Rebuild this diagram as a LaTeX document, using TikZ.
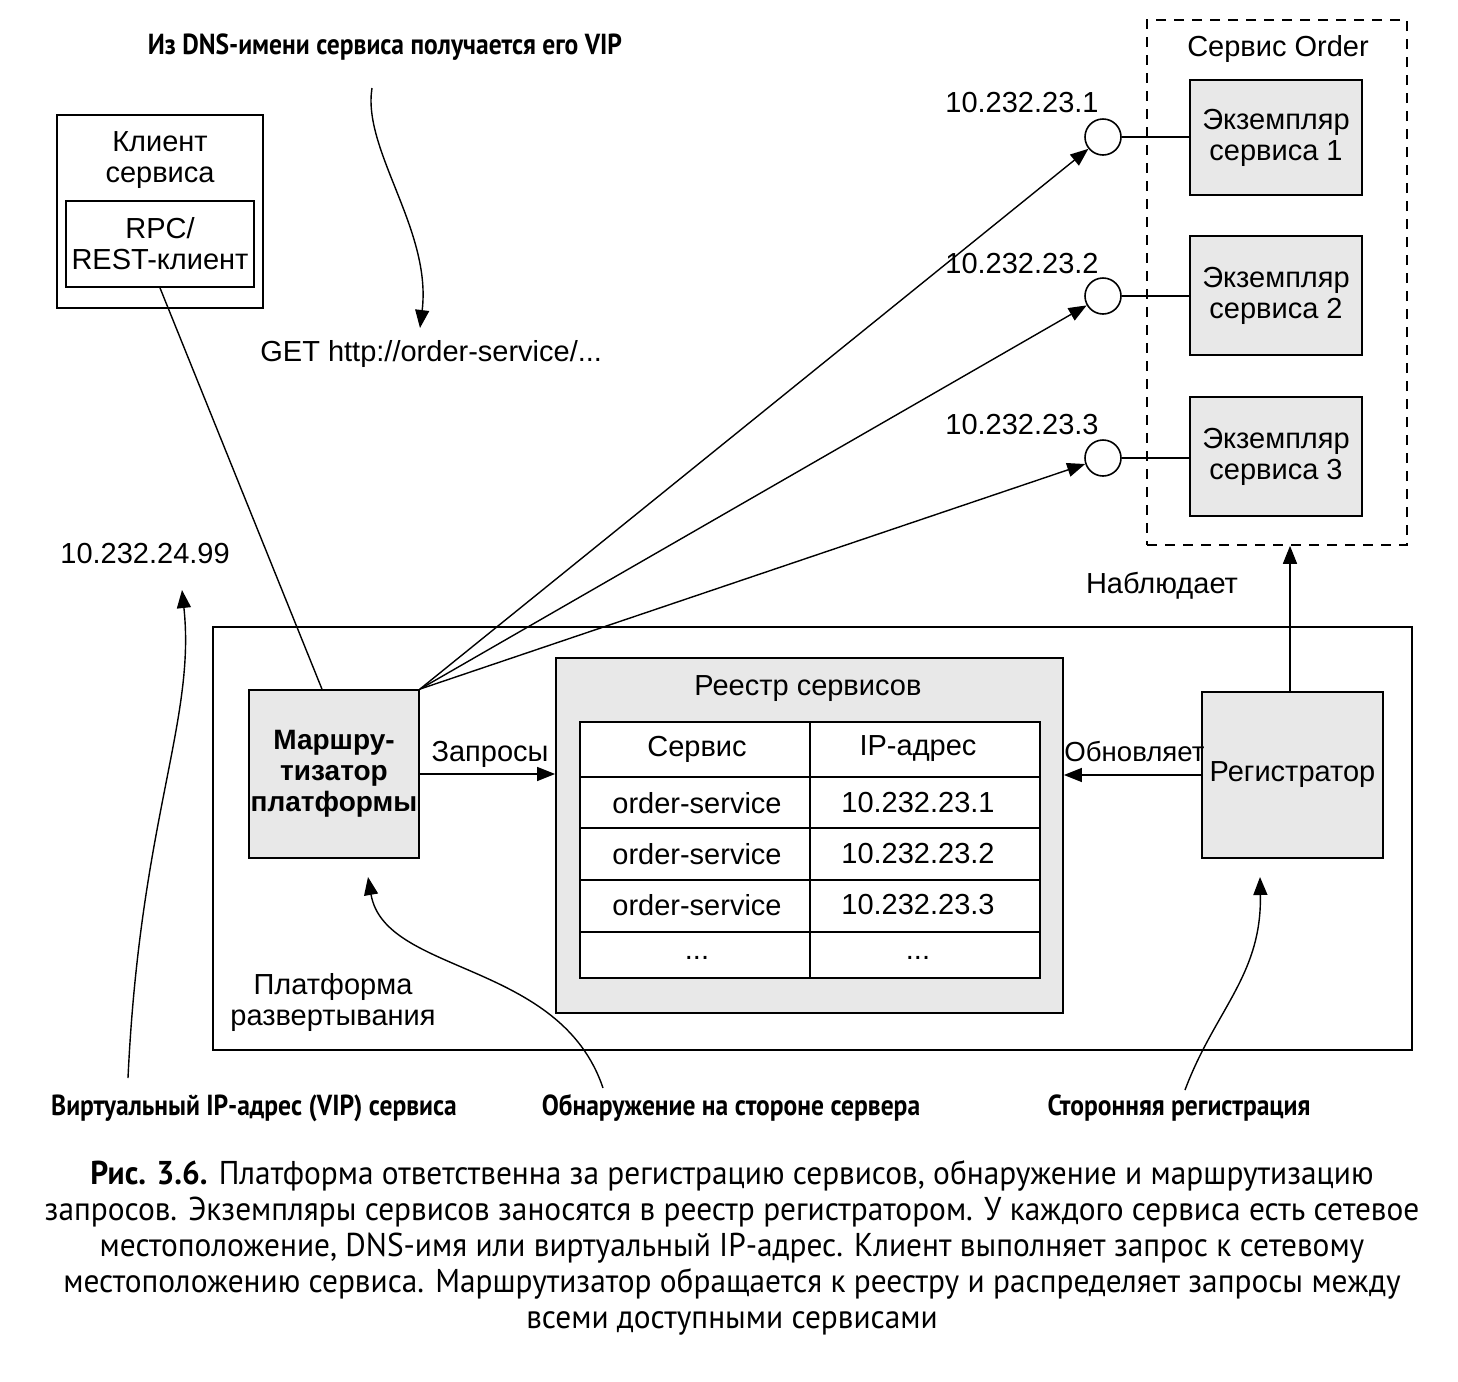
\documentclass[tikz,border=0pt]{standalone}
\usepackage{fontspec}
\setmainfont{Liberation Sans}
\newfontfamily\annfont[FakeStretch=0.88]{PT Sans}
\newfontfamily\capfont[FakeStretch=0.95]{PT Sans}
\usetikzlibrary{arrows.meta,calc}
\begin{document}
\begin{tikzpicture}[x=0.5pt,y=-0.5pt,
  every node/.style={font=\fontsize{14.5}{16}\selectfont, inner sep=0pt},
  twoline/.style={align=center, font=\fontsize{14.5}{15.5}\selectfont},
  box/.style={draw, line width=0.9pt, rectangle},
  graybox/.style={box, fill=black!9},
  conn/.style={line width=0.7pt},
  arr/.style={conn, -{Triangle[length=9pt,width=7pt]}},
  dashbox/.style={draw, line width=0.8pt, dash pattern=on 5pt off 4pt},
  port/.style={draw, line width=0.8pt, circle, minimum size=18pt, fill=white},
  annot/.style={font=\annfont\bfseries\fontsize{14.5}{16}\selectfont}]
\useasboundingbox (0,0) rectangle (1458,1382);

% service client
\node[box, minimum width=103pt, minimum height=96.5pt] (client) at (160,211.5) {};
\node[twoline] (clienttxt) at (160,160) {Клиент\\сервиса};
\node[box, twoline, minimum width=94pt, minimum height=43pt] (rpc) at (160,244) {RPC/\\REST-клиент};

% annotation at the top
\node[annot] (dnsnote) at (385,47) {Из DNS-имени сервиса получается его VIP};
\coordinate (dnsfrom) at (372,88);
\coordinate (dnsto) at (420,328);
\draw[arr] (dnsfrom) .. controls (362,150) and (432,230) .. (dnsto);
\node[anchor=west] (get) at (260,354) {GET http://order-service/...};

% virtual IP
\node[anchor=west] (vip) at (60,554) {10.232.24.99};
\coordinate (vipfrom) at (128,1078);
\coordinate (vipto) at (182,590);
\draw[arr] (vipfrom) .. controls (140,820) and (196,720) .. (vipto);

% deployment platform
\node[box, minimum width=599.5pt, minimum height=211.5pt] (platform) at (812.5,838.5) {};
\node[twoline] (platformtxt) at (333,1002) {Платформа\\развертывания};

% router
\node[graybox, minimum width=85pt, minimum height=84pt, align=center,
      font=\bfseries\fontsize{14}{15.5}\selectfont] (router) at (334,774) {Маршру-\\тизатор\\платформы};

% service registry
\node[graybox, minimum width=253.5pt, minimum height=177.5pt] (registry) at (809.5,835.5) {};
\node (regtitle) at (808,689) {Реестр сервисов};
\node[box, fill=white, minimum width=230pt, minimum height=128pt] (table) at (810,850) {};
\draw[line width=0.9pt] (810,722) -- (810,978);
\foreach \yy in {777,828,880,932} \draw[line width=0.9pt] (580,\yy) -- (1040,\yy);
\node (h1) at (697,749) {Сервис};
\node (h2) at (918,749) {IP-адрес};
\node (s1) at (697,803) {order-service};
\node (a1) at (918,803) {10.232.23.1};
\node (s2) at (697,854) {order-service};
\node (a2) at (918,854) {10.232.23.2};
\node (s3) at (697,905) {order-service};
\node (a3) at (918,905) {10.232.23.3};
\node (s4) at (697,958) {...};
\node (a4) at (918,958) {...};

% registrar
\node[graybox, minimum width=90.5pt, minimum height=83pt] (registrar) at (1292.5,775) {Регистратор};

% router -> registry
\draw[arr] (router.east) -- (registry.west |- router.east);
\node (req) at (490,754) {Запросы};
% registrar -> registry
\draw[arr] (registrar.west) -- (registry.east |- registrar.west);
\node[anchor=west, font=\fontsize{13.8}{16}\selectfont] (upd) at (1064,752) {Обновляет};

% order service instances
\node[dashbox, minimum width=130pt, minimum height=262.5pt] (order) at (1277,282.5) {};
\node (ordtitle) at (1278,49) {Сервис Order};
\node[graybox, twoline, minimum width=86pt, minimum height=57.5pt] (inst1) at (1276,137.5) {Экземпляр\\сервиса 1};
\node[graybox, twoline, minimum width=86pt, minimum height=59.5pt] (inst2) at (1276,295.5) {Экземпляр\\сервиса 2};
\node[graybox, twoline, minimum width=86pt, minimum height=59.5pt] (inst3) at (1276,456.5) {Экземпляр\\сервиса 3};

\node[port] (c1) at (1103,137) {};
\node[port] (c2) at (1103,296) {};
\node[port] (c3) at (1103,458) {};
\draw[conn] (c1.east) -- (inst1.west |- c1.east);
\draw[conn] (c2.east) -- (inst2.west |- c2.east);
\draw[conn] (c3.east) -- (inst3.west |- c3.east);
\node[anchor=east] (ip1) at (1099,103) {10.232.23.1};
\node[anchor=east] (ip2) at (1099,264) {10.232.23.2};
\node[anchor=east] (ip3) at (1099,425) {10.232.23.3};

% routing to instances
\draw[arr] (router.north east) -- (c1);
\draw[arr] (router.north east) -- (c2);
\draw[arr] (router.north east) -- (c3);
% client -> router
\draw[conn] (rpc.south) -- ($(router.north west)!0.43!(router.north east)$);

% registrar observes
\draw[arr] (registrar.north -| 1290,0) -- (order.south -| 1290,0);
\node (watch) at (1162,586) {Наблюдает};

% bottom annotations
\node[annot] (n1) at (254,1108) {Виртуальный IP-адрес (VIP) сервиса};
\node[annot] (n2) at (731,1108) {Обнаружение на стороне сервера};
\node[annot] (n3) at (1179,1108) {Сторонняя регистрация};
\coordinate (disfrom) at (603,1088);
\coordinate (disto) at (368,877);
\draw[arr] (disfrom) .. controls (560,960) and (385,975) .. (disto);
\coordinate (regfrom) at (1185,1090);
\coordinate (regto) at (1260,877);
\draw[arr] (regfrom) .. controls (1215,1010) and (1262,975) .. (regto);

% caption
\node[align=center, font=\capfont\fontsize{16.5}{18}\selectfont] (caption) at (732,1248)
 {{\bfseries Рис. 3.6.} Платформа ответственна за регистрацию сервисов, обнаружение и маршрутизацию\\
  запросов. Экземпляры сервисов заносятся в реестр регистратором. У каждого сервиса есть сетевое\\
  местоположение, DNS-имя или виртуальный IP-адрес. Клиент выполняет запрос к сетевому\\
  местоположению сервиса. Маршрутизатор обращается к реестру и распределяет запросы между\\
  всеми доступными сервисами};
\end{tikzpicture}
\end{document}
